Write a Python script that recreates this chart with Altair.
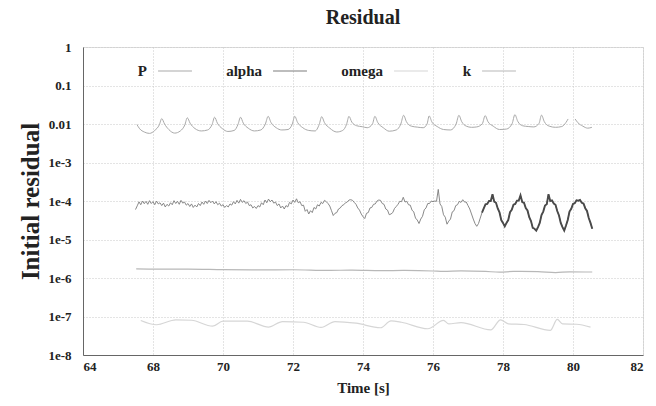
import altair as alt
import pandas as pd

# ---------------- data ----------------
series_names = ["P", "alpha", "omega", "k"]
series_colors = ["#a9a9a9", "#7c7c7c", "#d6d6d6", "#b8b8b8"]

x_ticks = [66, 68, 70, 72, 74, 76, 78, 80, 82]
y_ticks = [1, 0.1, 0.01, 1e-3, 1e-4, 1e-5, 1e-6, 1e-7, 1e-8]

# P residual (two segments: restart near t = 80)
p_t = [67.54, 67.62, 67.75, 67.90, 68.05, 68.18, 68.25, 68.33, 68.45, 68.62, 68.78, 68.91,
       68.98, 69.06, 69.20, 69.38, 69.56, 69.69, 69.76, 69.84, 69.98, 70.14, 70.32, 70.43,
       70.50, 70.58, 70.72, 70.90, 71.08, 71.21, 71.29, 71.37, 71.52, 71.68, 71.86, 71.98,
       72.05, 72.13, 72.28, 72.45, 72.63, 72.75, 72.82, 72.90, 73.05, 73.25, 73.42, 73.53,
       73.60, 73.68, 73.82, 73.98, 74.12, 74.27, 74.34, 74.42, 74.58, 74.75, 74.95, 75.08,
       75.16, 75.24, 75.38, 75.55, 75.72, 75.83, 75.89, 75.97, 76.12, 76.30, 76.50, 76.66,
       76.74, 76.82, 76.95, 77.10, 77.25, 77.41, 77.49, 77.57, 77.72, 77.90, 78.10, 78.26,
       78.34, 78.42, 78.56, 78.72, 78.88, 79.03, 79.10, 79.18, 79.32, 79.50, 79.68, 79.80,
       79.86,
       80.06, 80.14, 80.28, 80.42, 80.54]
p_v = [0.0097, 0.0075, 0.0062, 0.0057, 0.0068, 0.0095, 0.0138, 0.0100, 0.0072, 0.0058, 0.0066, 0.0095,
       0.0145, 0.0105, 0.0076, 0.0066, 0.0070, 0.0098, 0.0150, 0.0105, 0.0076, 0.0064, 0.0068, 0.0098,
       0.0150, 0.0105, 0.0078, 0.0066, 0.0070, 0.0100, 0.0158, 0.0110, 0.0080, 0.0070, 0.0072, 0.0100,
       0.0158, 0.0110, 0.0080, 0.0068, 0.0066, 0.0098, 0.0155, 0.0108, 0.0078, 0.0062, 0.0068, 0.0098,
       0.0158, 0.0112, 0.0090, 0.0085, 0.0080, 0.0100, 0.0158, 0.0110, 0.0080, 0.0065, 0.0070, 0.0100,
       0.0168, 0.0115, 0.0088, 0.0083, 0.0080, 0.0100, 0.0162, 0.0112, 0.0086, 0.0072, 0.0070, 0.0100,
       0.0168, 0.0115, 0.0088, 0.0082, 0.0084, 0.0102, 0.0165, 0.0115, 0.0088, 0.0072, 0.0074, 0.0102,
       0.0175, 0.0118, 0.0090, 0.0086, 0.0084, 0.0104, 0.0170, 0.0115, 0.0088, 0.0082, 0.0086, 0.0110,
       0.0135,
       0.0135, 0.0108, 0.0088, 0.0078, 0.0082]
p_seg = [0] * 97 + [1] * 5

# alpha residual, sampled every 0.05 s from 67.50 s, values in units of 1e-5
alpha_start = 67.50
alpha_step = 0.05
alpha_e5 = [
    6.0, 7.5, 9.5, 8.0, 10.0, 8.5, 9.8, 8.2, 10.2, 8.6,
    9.6, 8.0, 10.0, 8.4, 9.0, 7.6, 8.8, 7.0, 8.2, 7.4, 9.0, 8.0, 10.2, 8.6, 9.8, 8.2, 10.4, 8.8, 9.4, 7.8,
    8.6, 7.2, 8.4, 6.8, 7.8, 7.0, 8.6, 7.6, 9.4, 8.2, 10.0, 8.6, 10.4, 9.0, 10.0, 8.4, 9.6, 8.0, 8.8, 7.4,
    8.0, 6.8, 7.6, 7.0, 8.4, 7.8, 9.6, 8.4, 10.4, 8.8, 11.0, 9.2, 10.2, 8.6, 9.4, 7.6, 8.0, 6.6, 7.2, 6.4,
    7.6, 7.0, 9.0, 8.0, 10.6, 9.0, 11.2, 9.6, 10.6, 8.8, 9.4, 7.6, 8.4, 6.6, 7.4, 6.2, 7.6, 7.0, 9.2, 8.4,
    10.6, 9.2, 11.4, 9.0, 9.6, 7.6, 7.8, 5.4, 6.0, 4.6, 5.6, 5.0, 6.8, 6.2, 8.0, 7.4, 9.2, 8.6, 10.4, 9.6,
    8.6, 7.4, 5.6, 4.2, 4.8, 5.0, 6.2, 6.6, 7.6, 8.0, 9.0, 9.4, 10.6, 10.8, 10.4, 9.2, 8.2, 6.6, 5.8, 4.6,
    3.9, 3.5, 4.8, 5.0, 6.6, 6.8, 8.2, 8.4, 10.0, 10.6, 10.4, 8.6, 8.2, 6.2, 5.8, 4.4, 4.6, 5.0, 6.4, 7.2,
    8.2, 9.8, 9.6, 12.5, 9.4, 9.8, 8.0, 7.8, 5.8, 5.2, 3.6, 3.2, 2.6, 3.4, 4.0, 5.9, 6.6, 8.6, 8.6, 10.0,
    9.6, 10.0, 9.8, 20.0, 8.4, 7.2, 4.4, 3.8, 2.5, 3.0, 3.4, 5.2, 5.6, 7.6, 8.0, 9.8, 9.2, 10.8, 9.4, 9.4,
    7.6, 6.2, 4.6, 3.4, 2.6, 2.2, 2.6, 3.6, 5.0, 6.4, 8.2, 8.4, 10.0, 10.0, 15.0, 9.6, 9.0, 6.4, 5.1, 3.2,
    2.7, 2.2, 2.7, 3.2, 5.1, 5.9, 8.0, 8.4, 10.2, 10.2, 14.0, 9.4, 9.0, 6.6, 5.7, 3.8, 3.0, 2.0, 1.9, 1.7,
    2.1, 2.7, 4.3, 5.3, 7.6, 8.2, 15.0, 10.0, 10.4, 8.6, 8.0, 5.5, 4.2, 2.7, 2.1, 1.7, 2.3, 3.2, 5.3, 6.3,
    8.4, 8.8, 10.4, 10.2, 10.6, 9.0, 8.6, 6.5, 5.5, 3.6, 2.7, 1.9,
]

# omega residual
omega_t = [67.65, 68.10, 68.65, 69.10, 69.70, 70.00, 70.70, 71.30, 71.70, 72.30, 72.80,
           73.20, 73.80, 74.50, 74.80, 75.10, 75.85, 76.30, 76.45, 76.80, 77.65, 77.93,
           78.15, 78.60, 79.35, 79.55, 79.70, 80.10, 80.50]
omega_v = [7.9e-8, 6.1e-8, 8.2e-8, 8.0e-8, 5.6e-8, 7.6e-8, 7.6e-8, 5.3e-8, 7.4e-8, 7.1e-8, 5.2e-8,
           7.4e-8, 6.7e-8, 5.1e-8, 7.7e-8, 7.1e-8, 4.8e-8, 7.9e-8, 6.45e-8, 6.9e-8, 4.5e-8, 8.2e-8,
           6.45e-8, 6.2e-8, 4.35e-8, 8.4e-8, 6.45e-8, 6.3e-8, 5.3e-8]

# k residual
k_t = [67.52, 68.50, 69.00, 70.00, 71.00, 72.00, 73.00, 73.70, 74.50, 75.20,
       76.00, 76.30, 76.80, 77.50, 77.90, 78.30, 79.00, 79.50, 79.90, 80.55]
k_v = [1.72e-6, 1.70e-6, 1.71e-6, 1.66e-6, 1.63e-6, 1.64e-6, 1.58e-6, 1.60e-6, 1.55e-6, 1.57e-6,
       1.52e-6, 1.48e-6, 1.53e-6, 1.48e-6, 1.42e-6, 1.48e-6, 1.46e-6, 1.38e-6, 1.45e-6, 1.43e-6]

# ---------------- tables ----------------
df_p = pd.DataFrame({"t": p_t, "v": p_v, "series": "P", "seg": p_seg})
df_alpha = pd.DataFrame({
    "t": [round(alpha_start + i * alpha_step, 2) for i in range(len(alpha_e5))],
    "v": [a * 1e-5 for a in alpha_e5],
    "series": "alpha",
    "seg": 0,
})
df_omega = pd.DataFrame({"t": omega_t, "v": omega_v, "series": "omega", "seg": 0})
df_k = pd.DataFrame({"t": k_t, "v": k_v, "series": "k", "seg": 0})
df_smooth = pd.concat([df_omega, df_k], ignore_index=True)

SERIF = "Liberation Serif"

x_enc = alt.X(
    "t:Q",
    scale=alt.Scale(domain=[66, 82], nice=False, zero=False),
    axis=alt.Axis(
        values=x_ticks,
        labelExpr="datum.value == 66 ? '64' : datum.label",
        title="Time [s]",
        titleFont=SERIF, titleFontSize=15, titleFontWeight="bold", titlePadding=7,
        labelFont=SERIF, labelFontSize=13, labelFontWeight="bold", labelPadding=5,
        labelColor="#222", titleColor="#222",
        grid=True, gridColor="#c8c8c8", gridDash=[1, 2],
        domainColor="#666", ticks=False,
    ),
)
y_enc = alt.Y(
    "v:Q",
    scale=alt.Scale(type="log", domain=[1e-8, 1], nice=False),
    axis=alt.Axis(
        values=y_ticks,
        labelExpr="datum.value >= 0.009 ? format(datum.value, '~g') : '1e' + round(log(datum.value) / LN10)",
        title="Initial residual",
        titleFont=SERIF, titleFontSize=25, titleFontWeight="bold", titlePadding=4,
        labelFont=SERIF, labelFontSize=13, labelFontWeight="bold", labelPadding=12,
        labelColor="#222", titleColor="#222",
        grid=True, gridColor="#c8c8c8", gridDash=[1, 2],
        domainColor="#666", ticks=False,
    ),
)
color_enc = alt.Color(
    "series:N",
    scale=alt.Scale(domain=series_names, range=series_colors),
    legend=alt.Legend(
        orient="none", legendX=74, legendY=6, direction="horizontal", columns=4,
        title=None, symbolType="stroke", symbolSize=1150, symbolStrokeWidth=1.2,
        labelFont=SERIF, labelFontSize=15, labelFontWeight="bold", labelColor="#222",
        labelAlign="right", labelOffset={"expr": "-46"}, columnPadding=31,
    ),
)

base_p = alt.Chart(df_p).mark_line(strokeWidth=1, interpolate="monotone").encode(
    x=x_enc, y=y_enc, color=color_enc, detail="seg:N"
)
base_alpha = alt.Chart(df_alpha).mark_line(strokeWidth=0.9).encode(
    x=x_enc, y=y_enc, color=color_enc
)
band_alpha = alt.Chart(df_alpha).transform_filter("datum.t >= 77.4").mark_line(
    strokeWidth=1.9, color="#4a4a4a"
).encode(x=x_enc, y=y_enc)
base_smooth = alt.Chart(df_smooth).mark_line(strokeWidth=1.2, interpolate="monotone").encode(
    x=x_enc, y=y_enc, color=color_enc, detail="series:N"
)

chart = alt.layer(base_smooth, base_p, base_alpha, band_alpha).properties(
    width=560, height=308,
    title=alt.TitleParams("Residual", font=SERIF, fontSize=20, fontWeight="bold",
                          color="#222", offset=13, anchor="middle"),
    autosize=alt.AutoSizeParams(type="none"),
    padding={"left": 83, "top": 47, "right": 13, "bottom": 51},
).configure_view(stroke="#999", strokeWidth=1).configure(background="white")

chart.save("out.html", embed_options={"renderer": "svg", "actions": False})
